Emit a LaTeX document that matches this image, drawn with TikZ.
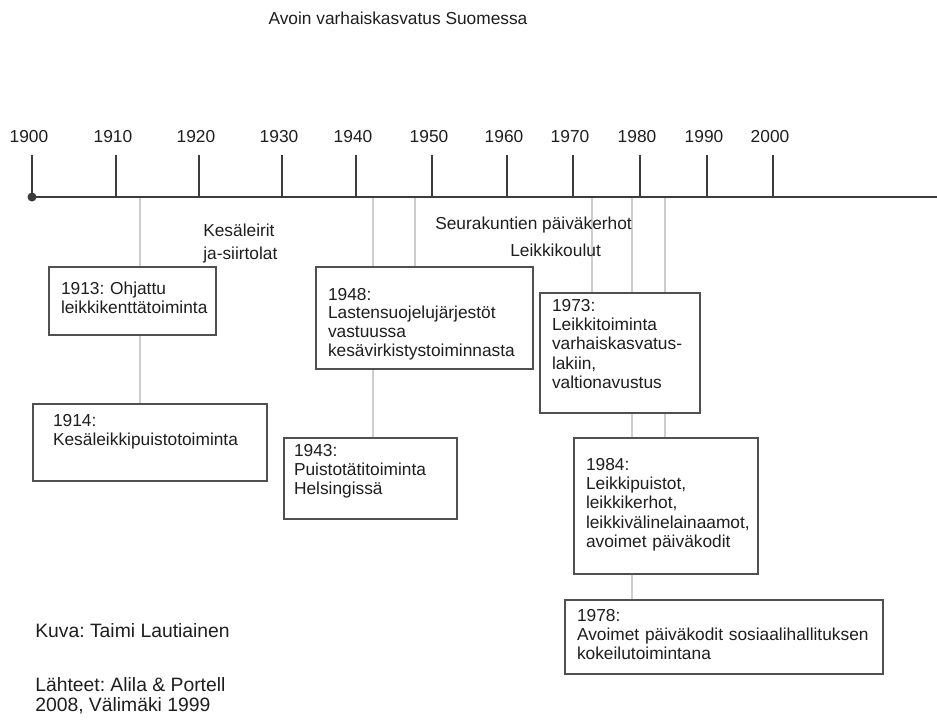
\documentclass[tikz,border=0pt]{standalone}
\usepackage{fontspec}
\setmainfont{Liberation Sans}
\usetikzlibrary{backgrounds}
\hyphenpenalty=10000
\exhyphenpenalty=10000
\frenchspacing
\definecolor{ink}{HTML}{1E1E1E}
\definecolor{frame}{HTML}{505050}
\definecolor{axisgray}{HTML}{3C3C3C}
\definecolor{lightline}{HTML}{CDCDCD}

\begin{document}
\begin{tikzpicture}[x=0.75pt, y=-0.75pt,
    every node/.style={text=ink, font=\fontsize{13}{14.5}\selectfont},
    year/.style={inner sep=0pt},
    event/.style={draw=frame, line width=1.5pt, fill=white, anchor=north west,
        align=left, inner xsep=9pt, inner ysep=4.5pt},
    note/.style={anchor=west, inner sep=0pt, align=left},
    link/.style={draw=lightline, line width=1pt},
    tick/.style={draw=axisgray, line width=1.5pt}]
    \useasboundingbox (0, 0) rectangle (937, 722);

    \node (title) at (398, 18) {Avoin varhaiskasvatus Suomessa};

    % axis
    \coordinate (start) at (32, 197);
    \coordinate (end) at (937, 197);
    \draw [tick] (start) -- (end);
    \fill [axisgray] (start) circle (3.4pt);

    \foreach \x/\yr in {32/1900, 116/1910, 199/1920, 282/1930, 356/1940, 432/1950,
                        507/1960, 573/1970, 640/1980, 707/1990, 773/2000} {
        \draw [tick] (\x, 155) -- (\x, 197);
        \node [year] (y\yr) at (\x - 3, 137) {\yr};
    }

    % periods
    \node [note, font=\fontsize{13}{17}\selectfont] (camps) at (203, 243.5) {Kesäleirit\\ja-siirtolat};
    \node [note] (clubs) at (435, 225) {Seurakuntien päiväkerhot};
    \node [note] (schools) at (510, 250) {Leikkikoulut};

    % events
    \coordinate (a1913) at (140, 197);
    \coordinate (a1943) at (373, 197);
    \coordinate (a1948) at (415, 197);
    \coordinate (a1973) at (592, 197);
    \coordinate (a1978) at (632, 197);
    \coordinate (a1984) at (665, 197);

    \node [event, text width=107.25pt, text height=15.75pt, text depth=26.25pt]
        (b1913) at (48, 266) {1913: Ohjattu\\leikkikenttätoiminta};
    \node [event, inner xsep=15pt, text width=145.5pt, text height=12pt, text depth=36.75pt]
        (b1914) at (32, 403) {1914:\\Kesäleikkipuistotoiminta};
    \node [event, font=\fontsize{13}{14}\selectfont, text width=144.75pt, text height=20.25pt, text depth=47.25pt]
        (b1948) at (315, 266) {1948:\\Lastensuojelujärjestöt\\vastuussa\\kesävirkistystoiminnasta};
    \node [event, inner xsep=7.5pt, text width=114.75pt, text height=9pt, text depth=42.75pt]
        (b1943) at (283, 437) {1943:\\Puistotätitoiminta\\Helsingissä};
    \node [event, text width=102pt, text height=9pt, text depth=72pt]
        (b1973) at (539, 292) {1973:\\Leikkitoiminta\\varhaiskasvatus-\\lakiin,\\valtionavustus};
    \node [event, text width=120pt, text height=19.5pt, text depth=73.5pt]
        (b1984) at (573, 437) {1984:\\Leikkipuistot,\\leikkikerhot,\\leikkivälinelainaamot,\\avoimet päiväkodit};
    \node [event, text width=220.5pt, text height=11.25pt, text depth=35.25pt]
        (b1978) at (564, 599) {1978:\\Avoimet päiväkodit sosiaalihallituksen\\kokeilutoimintana};

    \begin{scope}[on background layer]
        \draw [link] (a1913) -- (a1913 |- b1914.north);
        \draw [link] (a1943) -- (a1943 |- b1943.north);
        \draw [link] (a1948) -- (a1948 |- b1948.north);
        \draw [link] (a1973) -- (a1973 |- b1973.north);
        \draw [link] (a1978) -- (a1978 |- b1978.north);
        \draw [link] (a1984) -- (a1984 |- b1984.north);
    \end{scope}

    % credits
    \node [note, font=\fontsize{14.5}{15}\selectfont] (photo) at (35, 631) {Kuva: Taimi Lautiainen};
    \node [note, font=\fontsize{14.5}{15}\selectfont] (sources) at (35, 696) {Lähteet: Alila \& Portell\\2008, Välimäki 1999};
\end{tikzpicture}
\end{document}
